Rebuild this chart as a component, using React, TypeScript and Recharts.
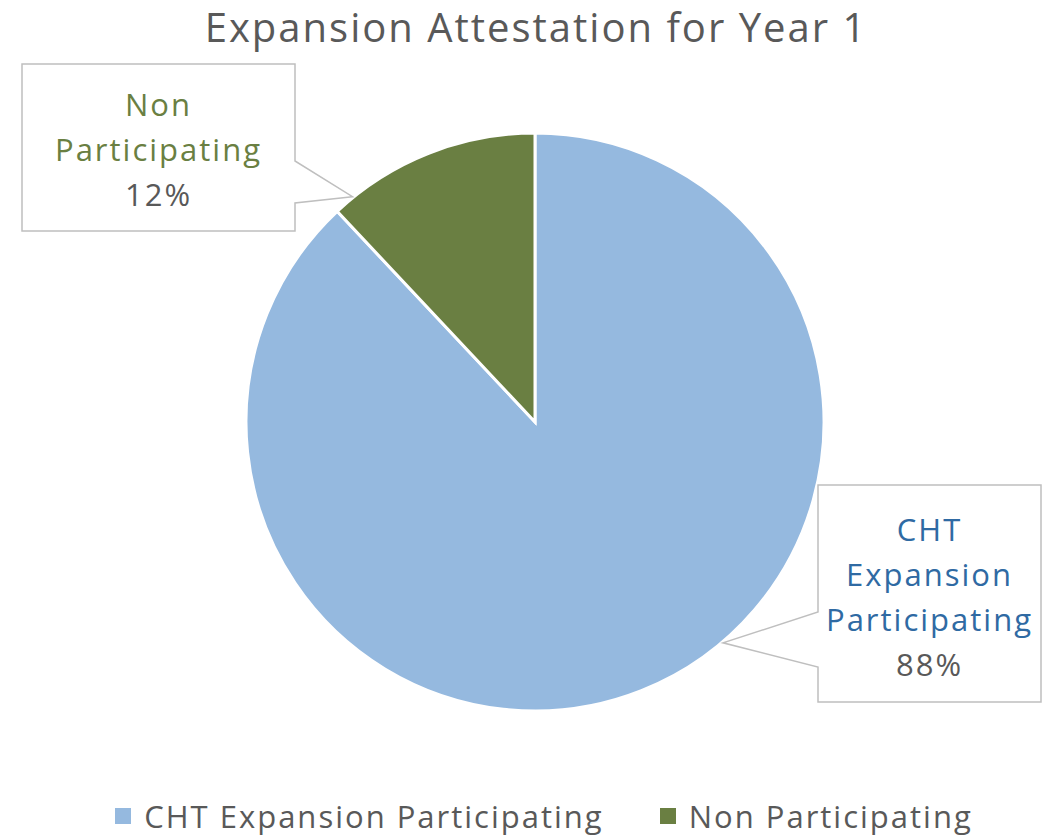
import React from 'react'
import { PieChart, Pie, Cell, Legend } from 'recharts'

const categories = ['CHT Expansion Participating', 'Non Participating']
const shares = [88, 12]
const labelLines = [['CHT', 'Expansion', 'Participating'], ['Non', 'Participating']]
const sliceColors = ['#95B9DF', '#6A7F42']
const labelColors = ['#2F6AA3', '#6A7F42']

const FONT = '"Open Sans", sans-serif'
const GREY = '#595959'

const data = categories.map((name, i) => ({ name, value: shares[i] }))

// callout boxes, offsets relative to the pie centre
const callouts = [
  { dx: 283, dy: 63, w: 223, h: 217, side: 'left', p1: 127, p2: 182, tipAngle: -49.6, firstLine: 56 },
  { dx: -513, dy: -358, w: 273, h: 167, side: 'right', p1: 97, p2: 139, tipAngle: 129, firstLine: 52 },
]

function renderLabel(props: any) {
  const { cx, cy, outerRadius, index, percent } = props
  const c = callouts[index]
  const left = cx + c.dx
  const top = cy + c.dy
  const right = left + c.w
  const bottom = top + c.h
  const rad = (c.tipAngle * Math.PI) / 180
  const tx = cx + (outerRadius + 1) * Math.cos(rad)
  const ty = cy - (outerRadius + 1) * Math.sin(rad)
  let d = ''
  if (c.side === 'right') {
    d = `M${left},${top} H${right} V${top + c.p1} L${tx},${ty} L${right},${top + c.p2} V${bottom} H${left} Z`
  } else {
    d = `M${left},${top} H${right} V${bottom} H${left} V${top + c.p2} L${tx},${ty} L${left},${top + c.p1} Z`
  }
  const lines = labelLines[index]
  const mid = left + c.w / 2
  return (
    <g>
      <path d={d} fill="#fff" stroke="#BFBFBF" strokeWidth={1.5} />
      {lines.map((t, i) => (
        <text key={i} x={mid} y={top + c.firstLine + i * 45} textAnchor="middle"
          fontFamily={FONT} fontSize={31} letterSpacing={2} fill={labelColors[index]}>
          {t}
        </text>
      ))}
      <text x={mid} y={top + c.firstLine + lines.length * 45} textAnchor="middle"
        fontFamily={FONT} fontSize={31} letterSpacing={2} fill={GREY}>
        {Math.round(percent * 100)}%
      </text>
    </g>
  )
}

function LegendBox({ payload }: any) {
  const items = payload && payload.length
    ? payload.map((p: any) => ({ name: p.value, color: p.color }))
    : categories.map((n, i) => ({ name: n, color: sliceColors[i] }))
  return (
    <div style={{ display: 'flex', justifyContent: 'center', gap: 56, fontFamily: FONT, paddingLeft: 34 }}>
      {items.map((it: any) => (
        <div key={it.name} style={{ display: 'flex', alignItems: 'center' }}>
          <span style={{ width: 16, height: 16, background: it.color, marginRight: 13, display: 'inline-block' }} />
          <span style={{ fontSize: 31, letterSpacing: 2, color: GREY }}>{it.name}</span>
        </div>
      ))}
    </div>
  )
}

export default function App() {
  return (
    <div style={{ position: 'absolute', left: 0, top: 0, width: 1054, height: 837, background: '#fff' }}>
      <div style={{
        position: 'absolute', left: 0, top: 0, width: 1072, textAlign: 'center',
        fontFamily: FONT, fontSize: 40, letterSpacing: 2, color: GREY, lineHeight: '54px',
      }}>
        Expansion Attestation for Year 1
      </div>
      <PieChart width={1054} height={837} margin={{ top: 0, right: 0, bottom: 0, left: 0 }}>
        <Pie
          data={data}
          dataKey="value"
          nameKey="name"
          cx={535}
          cy={422}
          outerRadius={289}
          startAngle={90}
          endAngle={-270}
          stroke="#fff"
          strokeWidth={3}
          label={renderLabel}
          labelLine={false}
          isAnimationActive={false}
        >
          {data.map((d, i) => (
            <Cell key={d.name} fill={sliceColors[i]} />
          ))}
        </Pie>
        <Legend content={<LegendBox />} wrapperStyle={{ position: 'absolute', left: 0, top: 795, width: 1054 }} />
      </PieChart>
    </div>
  )
}
